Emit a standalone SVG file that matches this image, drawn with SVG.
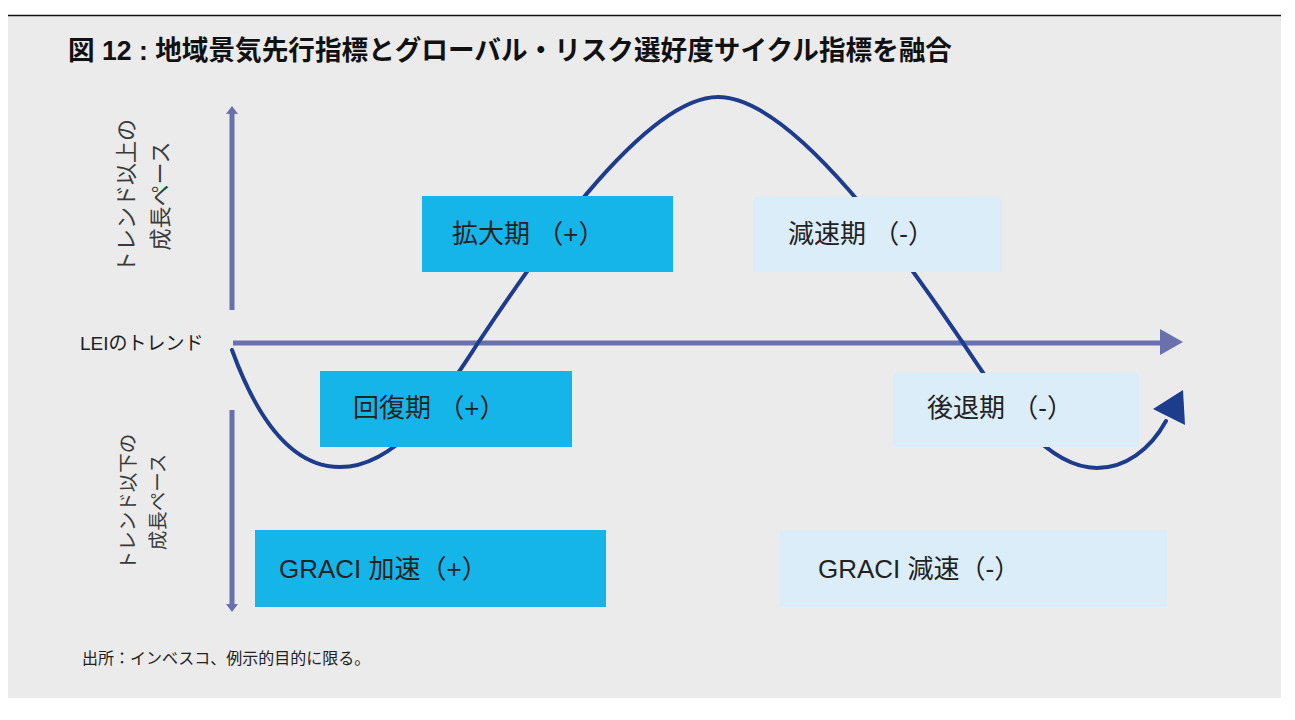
<svg xmlns="http://www.w3.org/2000/svg" width="1295" height="720" viewBox="0 0 1295 720">
<style>
  .t { font-family: "Liberation Sans", "Noto Sans CJK JP", sans-serif; fill: #222; }
  .title { font-family: "Liberation Sans", "Noto Sans CJK JP", sans-serif; font-weight: bold; font-size: 27px; fill: #111; }
  .lbl { font-size: 26px; }
  .ax { font-family: "Noto Sans CJK JP", sans-serif; fill: #3a3a3a; text-anchor: middle; }
  .cyan { fill: #15b5e9; }
  .light { fill: #dbedf9; }
  .axis { stroke: #6a70ad; stroke-width: 5; fill: none; }
  .axhead { fill: #6a70ad; }
  .curve { stroke: #1e3c8c; stroke-width: 4; fill: none; stroke-linecap: round; }
</style>
<rect x="0" y="0" width="1295" height="720" fill="#ffffff"/>
<rect x="8" y="16" width="1273" height="682" fill="#ebebeb"/>
<line x1="8" y1="15.5" x2="1281" y2="15.5" stroke="#111" stroke-width="1.5"/>
<text class="title" x="68" y="60" textLength="884" lengthAdjust="spacingAndGlyphs">図 12 : 地域景気先行指標とグローバル・リスク選好度サイクル指標を融合</text>

<g id="connectors">
  <line class="axis" x1="232" y1="310" x2="232" y2="113"/>
  <polygon class="axhead" points="232,106 238,114 226,114"/>
  <line class="axis" x1="232" y1="410" x2="232" y2="605"/>
  <polygon class="axhead" points="232,612 238,604 226,604"/>
  <line class="axis" x1="233" y1="343" x2="1162" y2="343"/>
  <polygon class="axhead" points="1183,342 1160,329 1160,355"/>
  <path class="curve" d="M232,350 C252,405 285,467 340,467 C400,467 445,393 478,343 C520,280 640,97 718,97 C798,97 920,280 963,343 C1003,403 1045,468 1097,468 C1125,468 1150,450 1166,421"/>
  <polygon fill="#1e3c8c" points="1183,390 1153,409 1185,425"/>
</g>

<g id="axis-labels">
  <text class="t" x="80" y="350" font-size="19">LEIのトレンド</text>
  <g transform="translate(143,196) rotate(-90)">
    <text class="ax" x="0" y="-8.6" font-size="22">トレンド以上の</text>
    <text class="ax" x="0" y="25.4" font-size="22">成長ペース</text>
  </g>
  <g transform="translate(142,502) rotate(-90)">
    <text class="ax" x="0" y="-7.1" font-size="19.5">トレンド以下の</text>
    <text class="ax" x="0" y="22.9" font-size="19.5">成長ペース</text>
  </g>
</g>

<g id="node-expansion">
  <rect class="cyan" x="422" y="196" width="251" height="76"/>
  <text class="t lbl" x="452" y="243">拡大期 （+）</text>
</g>
<g id="node-slowdown">
  <rect class="light" x="753" y="197" width="249" height="75"/>
  <text class="t lbl" x="788" y="243">減速期 （-）</text>
</g>
<g id="node-recovery">
  <rect class="cyan" x="320" y="371" width="252" height="76"/>
  <text class="t lbl" x="353" y="417">回復期 （+）</text>
</g>
<g id="node-recession">
  <rect class="light" x="893" y="373" width="246" height="74"/>
  <text class="t lbl" x="927" y="417">後退期 （-）</text>
</g>
<g id="node-graci-acc">
  <rect class="cyan" x="255" y="530" width="351" height="77"/>
  <text class="t lbl" x="279" y="578">GRACI 加速（+）</text>
</g>
<g id="node-graci-dec">
  <rect class="light" x="780" y="530" width="387" height="77"/>
  <text class="t lbl" x="818" y="578">GRACI 減速（-）</text>
</g>

<text class="t" x="82" y="664" font-size="16">出所：インベスコ、例示的目的に限る。</text>
</svg>
